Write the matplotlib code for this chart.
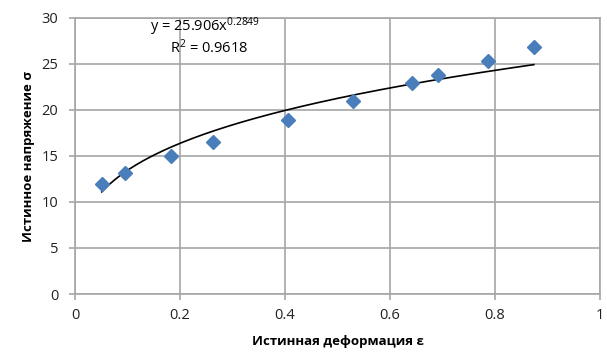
import numpy as np
import matplotlib
matplotlib.use("Agg")
import matplotlib.pyplot as plt

strain = [0.051, 0.096, 0.182, 0.263, 0.405, 0.530, 0.642, 0.692, 0.786, 0.874]
stress = [12.0, 13.1, 15.0, 16.5, 18.9, 21.0, 22.9, 23.8, 25.3, 26.9]
fit_coef = 25.906
fit_exp = 0.2849
fit_r2 = 0.9618
x_ticks = [0, 0.2, 0.4, 0.6, 0.8, 1]
x_tick_labels = ["0", "0.2", "0.4", "0.6", "0.8", "1"]
y_ticks = [0, 5, 10, 15, 20, 25, 30]

plt.rcParams['font.family'] = ['Open Sans', 'DejaVu Sans']
plt.rcParams['mathtext.fontset'] = 'custom'
plt.rcParams['mathtext.rm'] = 'Open Sans'
plt.rcParams['mathtext.it'] = 'Open Sans'

fig = plt.figure(figsize=(6.07, 3.59), dpi=100)
ax = fig.add_axes([75/607, 1-294/359, 525/607, 276/359])

grid_c = '#a6a6a6'
ax.set_xlim(0, 1)
ax.set_ylim(0, 30)
ax.set_xticks(x_ticks)
ax.set_xticklabels(x_tick_labels)
ax.set_yticks(y_ticks)
ax.grid(True, color=grid_c, linewidth=1.2)
ax.set_axisbelow(True)
for s in ax.spines.values():
    s.set_color(grid_c)
    s.set_linewidth(1.2)
ax.tick_params(axis='both', colors=grid_c, labelcolor='#222222', labelsize=10.5, length=4, width=1.2)
ax.tick_params(axis='x', pad=6)
ax.tick_params(axis='y', pad=8)

xs = np.linspace(min(strain), max(strain), 200)
ax.plot(xs, fit_coef * xs ** fit_exp, color='black', linewidth=1.2, zorder=2)
ax.plot(strain, stress, linestyle='none', marker='D', markersize=6.8,
        color='#4a7ebb', markeredgecolor='#4a7ebb', zorder=3)

ax.text(0.248, 29.0, f'y = {fit_coef}x$^{{{fit_exp}}}$', ha='center', va='center', fontsize=10.5)
ax.text(0.255, 26.75, f'R$^{{2}}$ = {fit_r2}', ha='center', va='center', fontsize=10.5)

ax.set_xlabel('Истинная деформация ε', fontsize=9.5, fontweight='bold', labelpad=9)
ax.set_ylabel('Истинное напряжение σ', fontsize=9.5, fontweight='bold', labelpad=5)

fig.savefig('out.png', dpi=100)
